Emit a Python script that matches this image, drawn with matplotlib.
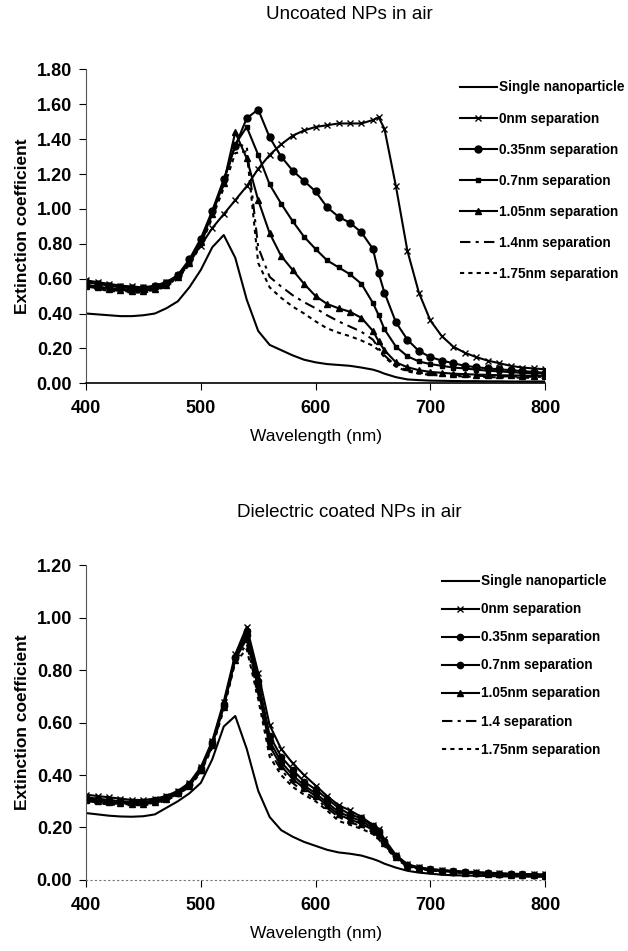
import matplotlib
matplotlib.use("Agg")
import matplotlib.pyplot as plt
from matplotlib.ticker import FormatStrFormatter, MultipleLocator

plt.rcParams['font.family'] = ['Liberation Sans', 'DejaVu Sans']

# wavelength grid (nm)
wl = [400, 410, 420, 430, 440, 450, 460, 470, 480, 490,
      500, 510, 520, 530, 540, 550, 560, 570, 580, 590,
      600, 610, 620, 630, 640, 650, 655,
      660, 670, 680, 690, 700, 710, 720, 730, 740, 750, 760, 770, 780, 790, 800]

# ---- uncoated NPs in air
up_single = [0.40, 0.395, 0.39, 0.385, 0.385, 0.39, 0.40, 0.43, 0.47, 0.55,
             0.65, 0.78, 0.85, 0.72, 0.48, 0.30, 0.22, 0.19, 0.16, 0.135,
             0.12, 0.11, 0.105, 0.10, 0.09, 0.078, 0.068,
             0.055, 0.035, 0.022, 0.018, 0.015, 0.014, 0.013, 0.012, 0.012, 0.011, 0.011, 0.01, 0.01, 0.01, 0.01]
up_0 = [0.59, 0.58, 0.57, 0.56, 0.555, 0.55, 0.56, 0.58, 0.62, 0.70,
        0.79, 0.89, 0.97, 1.05, 1.13, 1.23, 1.31, 1.37, 1.42, 1.45,
        1.47, 1.48, 1.49, 1.49, 1.49, 1.51, 1.525,
        1.46, 1.13, 0.76, 0.52, 0.36, 0.27, 0.21, 0.175, 0.15, 0.13, 0.115, 0.10, 0.09, 0.085, 0.08]
up_035 = [0.58, 0.57, 0.56, 0.55, 0.545, 0.545, 0.555, 0.575, 0.62, 0.71,
          0.83, 0.99, 1.17, 1.36, 1.52, 1.57, 1.41, 1.30, 1.22, 1.16,
          1.10, 1.01, 0.955, 0.92, 0.865, 0.77, 0.63,
          0.52, 0.35, 0.25, 0.185, 0.15, 0.13, 0.115, 0.10, 0.092, 0.085, 0.08, 0.075, 0.07, 0.065, 0.06]
up_07 = [0.565, 0.555, 0.545, 0.54, 0.535, 0.535, 0.545, 0.57, 0.615, 0.70,
         0.82, 0.98, 1.16, 1.37, 1.47, 1.31, 1.14, 1.03, 0.93, 0.84,
         0.77, 0.705, 0.665, 0.625, 0.57, 0.46, 0.39,
         0.31, 0.21, 0.155, 0.125, 0.11, 0.10, 0.09, 0.085, 0.078, 0.072, 0.068, 0.064, 0.06, 0.058, 0.055]
up_105 = [0.56, 0.55, 0.54, 0.535, 0.53, 0.53, 0.54, 0.565, 0.61, 0.69,
          0.81, 0.97, 1.15, 1.44, 1.29, 1.05, 0.86, 0.73, 0.65, 0.57,
          0.50, 0.455, 0.43, 0.41, 0.375, 0.30, 0.24,
          0.19, 0.12, 0.092, 0.075, 0.065, 0.06, 0.055, 0.052, 0.05, 0.048, 0.046, 0.045, 0.044, 0.043, 0.042]
up_14 = [0.555, 0.545, 0.535, 0.53, 0.525, 0.525, 0.535, 0.56, 0.605, 0.685,
         0.80, 0.96, 1.14, 1.37, 1.36, 0.78, 0.61, 0.555, 0.505, 0.465,
         0.43, 0.39, 0.355, 0.325, 0.295, 0.25, 0.20,
         0.16, 0.10, 0.075, 0.062, 0.055, 0.05, 0.047, 0.045, 0.043, 0.041, 0.04, 0.039, 0.038, 0.037, 0.036]
up_175 = [0.55, 0.54, 0.53, 0.525, 0.52, 0.52, 0.53, 0.555, 0.60, 0.68,
          0.79, 0.95, 1.12, 1.32, 1.33, 0.69, 0.55, 0.49, 0.44, 0.40,
          0.355, 0.315, 0.29, 0.27, 0.245, 0.215, 0.19,
          0.15, 0.095, 0.068, 0.055, 0.048, 0.044, 0.041, 0.039, 0.037, 0.035, 0.034, 0.033, 0.032, 0.031, 0.03]

# ---- dielectric coated NPs in air
cp_single = [0.255, 0.25, 0.245, 0.242, 0.241, 0.243, 0.25, 0.275, 0.30, 0.33,
             0.37, 0.46, 0.585, 0.625, 0.50, 0.34, 0.24, 0.19, 0.165, 0.145,
             0.13, 0.115, 0.105, 0.10, 0.093, 0.08, 0.072,
             0.062, 0.047, 0.035, 0.028, 0.024, 0.02, 0.018, 0.017, 0.016, 0.015, 0.014, 0.013, 0.013, 0.012, 0.012]
cp_0 = [0.325, 0.32, 0.315, 0.31, 0.305, 0.305, 0.31, 0.32, 0.34, 0.37,
        0.43, 0.53, 0.68, 0.86, 0.965, 0.79, 0.59, 0.50, 0.445, 0.40,
        0.36, 0.32, 0.285, 0.265, 0.24, 0.21, 0.195,
        0.155, 0.095, 0.06, 0.048, 0.042, 0.038, 0.035, 0.032, 0.03, 0.028, 0.026, 0.024, 0.023, 0.022, 0.021]
cp_035 = [0.315, 0.31, 0.305, 0.30, 0.298, 0.298, 0.303, 0.315, 0.335, 0.365,
          0.425, 0.525, 0.67, 0.85, 0.95, 0.76, 0.55, 0.47, 0.42, 0.375,
          0.345, 0.31, 0.275, 0.25, 0.235, 0.205, 0.185,
          0.15, 0.092, 0.058, 0.046, 0.04, 0.036, 0.033, 0.03, 0.028, 0.026, 0.024, 0.022, 0.021, 0.02, 0.019]
cp_07 = [0.31, 0.305, 0.30, 0.297, 0.295, 0.295, 0.30, 0.312, 0.332, 0.362,
         0.42, 0.52, 0.665, 0.845, 0.935, 0.745, 0.53, 0.45, 0.40, 0.36,
         0.33, 0.295, 0.26, 0.24, 0.225, 0.197, 0.178,
         0.145, 0.09, 0.056, 0.045, 0.039, 0.035, 0.032, 0.029, 0.027, 0.025, 0.023, 0.021, 0.02, 0.019, 0.018]
cp_105 = [0.305, 0.30, 0.296, 0.293, 0.29, 0.29, 0.296, 0.308, 0.33, 0.36,
          0.418, 0.515, 0.66, 0.84, 0.92, 0.73, 0.51, 0.435, 0.385, 0.35,
          0.32, 0.285, 0.25, 0.23, 0.215, 0.19, 0.17,
          0.14, 0.087, 0.055, 0.044, 0.038, 0.034, 0.031, 0.028, 0.026, 0.024, 0.022, 0.02, 0.019, 0.018, 0.017]
cp_14 = [0.30, 0.296, 0.292, 0.29, 0.288, 0.288, 0.294, 0.306, 0.328, 0.358,
         0.415, 0.51, 0.655, 0.835, 0.90, 0.71, 0.49, 0.42, 0.37, 0.335,
         0.31, 0.275, 0.24, 0.22, 0.205, 0.182, 0.163,
         0.135, 0.083, 0.053, 0.043, 0.037, 0.033, 0.03, 0.027, 0.025, 0.023, 0.021, 0.019, 0.018, 0.017, 0.016]
cp_175 = [0.296, 0.292, 0.288, 0.286, 0.285, 0.285, 0.29, 0.303, 0.325, 0.355,
          0.41, 0.505, 0.65, 0.83, 0.88, 0.69, 0.47, 0.40, 0.355, 0.325,
          0.30, 0.265, 0.225, 0.21, 0.195, 0.175, 0.155,
          0.13, 0.08, 0.052, 0.042, 0.036, 0.032, 0.029, 0.026, 0.024, 0.022, 0.02, 0.018, 0.017, 0.016, 0.015]

top_labels = ['Single nanoparticle', '0nm separation', '0.35nm separation', '0.7nm separation',
              '1.05nm separation', '1.4nm separation', '1.75nm separation']
bot_labels = ['Single nanoparticle', '0nm separation', '0.35nm separation', '0.7nm separation',
              '1.05nm separation', '1.4 separation', '1.75nm separation']

top_styles = [dict(ls='-', marker=None),
              dict(ls='-', marker='x', ms=4.5, mew=1.0),
              dict(ls='-', marker='o', ms=5),
              dict(ls='-', marker='s', ms=3),
              dict(ls='-', marker='^', ms=4.5),
              dict(ls=(0, (5, 2.5, 1.5, 2.5)), marker=None),
              dict(ls=(0, (2, 2)), marker=None)]
bot_styles = [dict(ls='-', marker=None),
              dict(ls='-', marker='x', ms=4.5, mew=1.0),
              dict(ls='-', marker='o', ms=4.5),
              dict(ls='-', marker='o', ms=4.5),
              dict(ls='-', marker='^', ms=4.5),
              dict(ls=(0, (5, 2.5, 1.5, 2.5)), marker=None),
              dict(ls=(0, (2, 2)), marker=None)]

fig = plt.figure(figsize=(6.28, 9.51), dpi=100)
ax1 = fig.add_axes([0.137, 0.597, 0.731, 0.330])
ax2 = fig.add_axes([0.137, 0.0747, 0.731, 0.331])


def draw(ax, series, labels, styles, ymax, title, title_y, leg_xy, spacing):
    for ys, lab, st in zip(series, labels, styles):
        ax.plot(wl, ys, color='black', lw=1.5, label=lab, **st)
    ax.set_xlim(400, 800)
    ax.set_ylim(0, ymax)
    ax.yaxis.set_major_locator(MultipleLocator(0.2))
    ax.xaxis.set_major_locator(MultipleLocator(100))
    ax.yaxis.set_major_formatter(FormatStrFormatter('%.2f'))
    for s in ['top', 'right']:
        ax.spines[s].set_visible(False)
    ax.spines['left'].set_linestyle((0, (1, 1)))
    ax.spines['left'].set_color('#555555')
    ax.spines['left'].set_linewidth(0.8)
    ax.tick_params(axis='both', direction='out', length=5, width=0.8, labelsize=13, pad=5)
    ax.tick_params(axis='x', pad=7)
    for t in ax.get_xticklabels() + ax.get_yticklabels():
        t.set_fontweight('bold')
    ax.set_ylabel('Extinction coefficient', fontsize=12.5, fontweight='bold', labelpad=5)
    ax.set_xlabel('Wavelength (nm)', fontsize=12.5, labelpad=9)
    fig.text(0.557, title_y, title, fontsize=13.5, ha='center', va='center')
    ax.legend(loc='upper left', bbox_to_anchor=leg_xy, bbox_transform=fig.transFigure,
              frameon=False, numpoints=1, handlelength=2.7,
              handletextpad=0.15, labelspacing=spacing, borderpad=0, borderaxespad=0,
              prop=dict(weight='bold', size=9.8))


draw(ax1, [up_single, up_0, up_035, up_07, up_105, up_14, up_175], top_labels, top_styles,
     1.8, 'Uncoated NPs in air', 0.985, (0.7325, 0.9155), 1.26)
draw(ax2, [cp_single, cp_0, cp_035, cp_07, cp_105, cp_14, cp_175], bot_labels, bot_styles,
     1.2, 'Dielectric coated NPs in air', 0.461, (0.704, 0.396), 1.03)

ax1.spines['bottom'].set_linewidth(1.2)
ax2.spines['bottom'].set_linestyle((0, (1, 3)))
ax2.spines['bottom'].set_color('#777777')
ax2.spines['bottom'].set_linewidth(0.8)

fig.savefig('out.png', dpi=100)
